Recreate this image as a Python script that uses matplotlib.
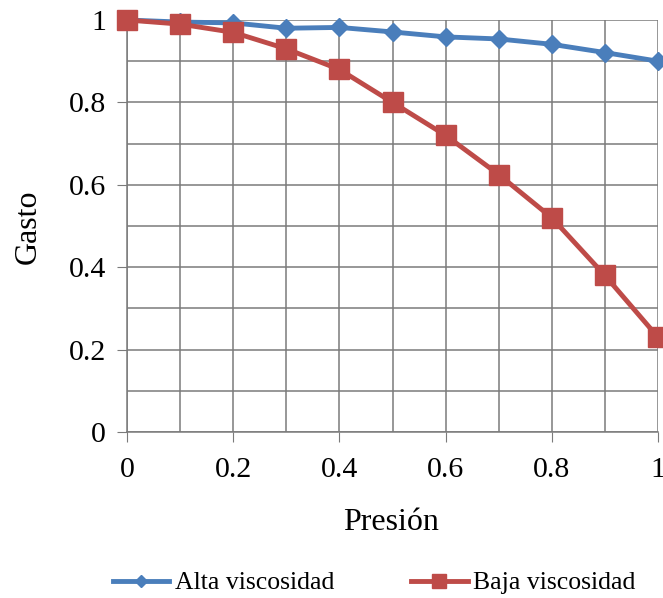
import matplotlib.pyplot as plt
import numpy as np

# Data
presion = [0, 0.1, 0.2, 0.3, 0.4, 0.5, 0.6, 0.7, 0.8, 0.9, 1.0]
alta_viscosidad = [1.0, 0.995, 0.993, 0.98, 0.982, 0.971, 0.959, 0.954, 0.941, 0.921, 0.90]
baja_viscosidad = [1.0, 0.99, 0.97, 0.93, 0.88, 0.80, 0.72, 0.625, 0.52, 0.38, 0.23]
tick_values = [0, 0.2, 0.4, 0.6, 0.8, 1]
tick_labels = ["0", "0.2", "0.4", "0.6", "0.8", "1"]

plt.rcParams["font.family"] = ["Liberation Serif", "DejaVu Serif"]

fig = plt.figure(figsize=(6.63, 5.98), dpi=100)
ax = fig.add_axes([127 / 663, 1 - 432 / 598, (658 - 127) / 663, (432 - 20) / 598])

grid_color = "#7a7a7a"
ax.plot(presion, alta_viscosidad, color="#4a7ebb", lw=3.5, marker="D",
        markersize=9, label="Alta viscosidad", zorder=3, clip_on=False)
ax.plot(presion, baja_viscosidad, color="#be4b48", lw=3.5, marker="s",
        markersize=14, label="Baja viscosidad", zorder=4, clip_on=False)

ax.set_xlim(0, 1)
ax.set_ylim(0, 1)
ax.set_xticks(tick_values)
ax.set_xticklabels(tick_labels)
ax.set_yticks(tick_values)
ax.set_yticklabels(tick_labels)
ax.set_xticks(np.arange(0, 1.01, 0.1), minor=True)
ax.set_yticks(np.arange(0, 1.01, 0.1), minor=True)
ax.grid(True, which="both", color=grid_color, lw=1.1)
ax.set_axisbelow(True)

for side in ["top", "right"]:
    ax.spines[side].set_visible(False)
for side in ["left", "bottom"]:
    ax.spines[side].set_color(grid_color)
    ax.spines[side].set_linewidth(1.1)

ax.tick_params(axis="both", which="major", direction="out", length=7,
               color=grid_color, labelsize=21.5)
ax.tick_params(axis="x", which="major", pad=11)
ax.tick_params(axis="y", which="major", pad=8)
ax.tick_params(which="minor", length=0)

fig.text(391 / 663, 1 - 523 / 598, "Presión", fontsize=23,
         ha="center", va="center")
fig.text(28 / 663, 1 - 227 / 598, "Gasto", fontsize=23,
         ha="center", va="center", rotation=90)

fig.legend(loc="center", bbox_to_anchor=(374 / 663, 1 - 583 / 598), ncol=2,
           frameon=False, fontsize=18.5, handlelength=2.2, handletextpad=0.2,
           columnspacing=3.0, markerscale=0.7)

fig.savefig("out.png", dpi=100)
